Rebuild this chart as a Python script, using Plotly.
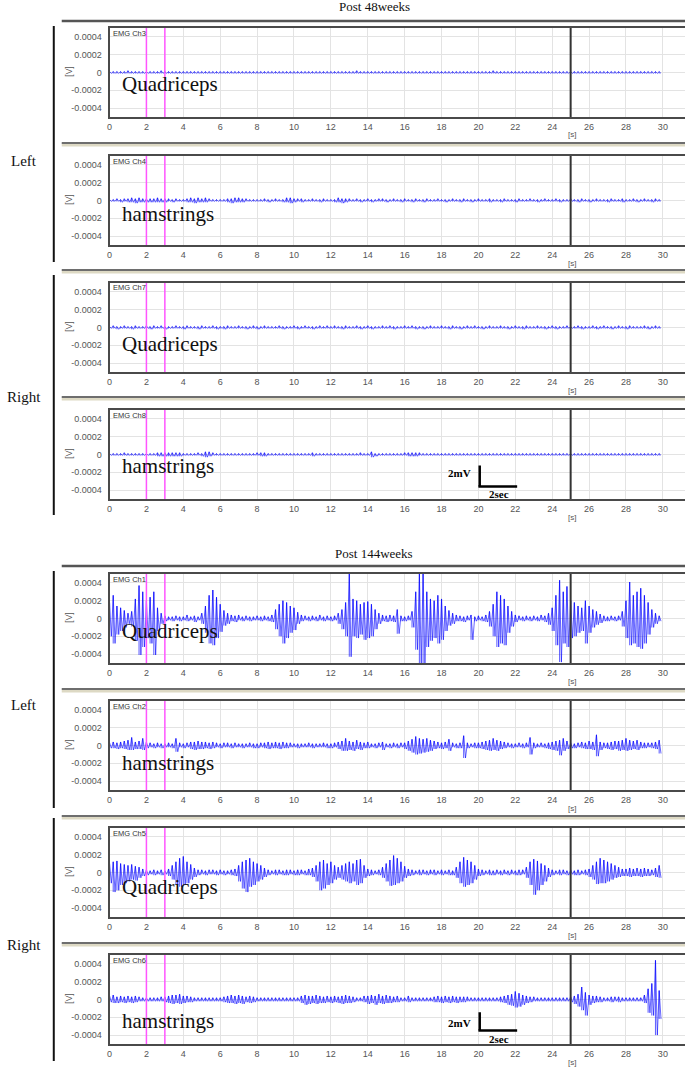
import numpy as np
import plotly.graph_objects as go

W, H = 685, 1069
BIN = 0.2  # seconds per bin; values are per-bin max (hi) and min (lo), unit = 10 uV
UNIT = 1e-5

channels = ["EMG Ch3", "EMG Ch4", "EMG Ch7", "EMG Ch8", "EMG Ch1", "EMG Ch2", "EMG Ch5", "EMG Ch6"]
muscles = ["Quadriceps", "hamstrings", "Quadriceps", "hamstrings",
           "Quadriceps", "hamstrings", "Quadriceps", "hamstrings"]
blocks = ["Post 48weeks", "Post 144weeks"]
sides = ["Left", "Right", "Left", "Right"]
x_ticks = list(range(0, 31, 2))
y_ticks = [-0.0004, -0.0002, 0, 0.0002, 0.0004]
y_ticktext = ["-0.0004", "-0.0002", "0", "0.0002", "0.0004"]
markers_magenta = [2, 3]
marker_black = 25

ch3_hi = [1,1,1,1,1, 2,1,1,1,1, 1,1,1,1,2, 1,1,1,1,1, 1,1,1,1,1, 1,1,1,1,1,
          1,1,1,1,1, 1,1,1,1,1, 1,1,1,1,1, 1,1,1,1,1, 1,1,1,1,1, 1,1,1,1,1,
          1,1,1,1,1, 1,1,2,1,1, 1,1,1,1,1, 1,1,1,1,1, 1,1,1,1,1, 1,1,1,1,1,
          1,1,1,1,1, 1,1,1,1,1, 1,1,1,1,2, 1,1,1,1,1, 1,1,1,1,1, 1,1,1,1,1,
          1,1,1,1,1, 1,1,1,1,1, 1,1,1,1,1, 1,1,1,1,1, 1,1,1,1,1, 1,1,1,1,1]
ch3_lo = [-1,-1,-1,-1,-1, -1,-1,-1,-1,-1, -1,-1,-1,-1,-1, -1,-1,-1,-1,-1, -1,-1,-1,-1,-1, -1,-1,-1,-1,-1,
          -1,-1,-1,-1,-1, -1,-1,-1,-1,-1, -1,-1,-1,-1,-1, -1,-1,-1,-1,-1, -1,-1,-1,-1,-1, -1,-1,-1,-1,-1,
          -1,-1,-1,-1,-1, -1,-1,-1,-1,-1, -1,-1,-1,-1,-1, -1,-1,-1,-1,-1, -1,-1,-1,-1,-1, -1,-1,-1,-1,-1,
          -1,-1,-1,-1,-1, -1,-1,-1,-1,-1, -1,-1,-1,-1,-1, -1,-1,-1,-1,-1, -1,-1,-1,-1,-1, -1,-1,-1,-1,-1,
          -1,-1,-1,-1,-1, -1,-1,-1,-1,-1, -1,-1,-1,-1,-1, -1,-1,-1,-1,-1, -1,-1,-1,-1,-1, -1,-1,-1,-1,-1]

ch4_hi = [1,1,2,1,2, 2,3,2,3,2, 2,2,2,3,2, 2,2,1,2,1, 1,2,3,2,3, 2,3,2,1,1,
          1,1,2,2,3, 3,2,2,1,1, 1,1,2,1,1, 2,1,1,3,3, 2,2,2,1,1, 2,1,1,2,1,
          1,1,3,2,2, 2,1,2,1,1, 2,1,1,2,2, 1,1,2,1,1, 2,1,1,2,1, 1,2,1,1,2,
          1,1,1,2,1, 1,2,1,1,1, 2,1,1,2,1, 1,1,2,1,1, 1,2,1,1,2, 1,1,1,2,1,
          1,2,1,1,1, 2,1,1,2,1, 1,1,2,1,1, 1,2,1,1,2, 1,1,2,1,1, 2,1,1,2,1]
ch4_lo = [-1,-1,-1,-2,-1, -2,-2,-3,-2,-2, -2,-2,-2,-2,-2, -2,-1,-2,-1,-1, -1,-2,-2,-3,-2, -2,-2,-1,-1,-1,
          -1,-1,-2,-3,-2, -2,-2,-1,-1,-1, -1,-1,-1,-2,-1, -1,-1,-2,-2,-3, -2,-1,-2,-1,-1, -1,-1,-2,-1,-1,
          -1,-2,-2,-3,-2, -1,-1,-1,-2,-1, -1,-2,-1,-1,-1, -2,-1,-1,-1,-2, -1,-1,-2,-1,-1, -2,-1,-1,-1,-1,
          -1,-2,-1,-1,-1, -2,-1,-1,-2,-1, -1,-1,-1,-2,-1, -1,-2,-1,-1,-1, -2,-1,-1,-1,-1, -1,-2,-1,-1,-1,
          -1,-1,-2,-1,-1, -1,-1,-2,-1,-1, -2,-1,-1,-1,-1, -2,-1,-1,-1,-2, -1,-1,-1,-2,-1, -1,-1,-2,-1,-1]

ch7_hi = [1,2,1,1,2, 1,1,2,1,1, 2,1,2,1,2, 1,1,1,2,1, 1,2,1,1,1, 2,1,1,2,1,
          1,1,2,1,1, 2,1,1,1,2, 1,1,2,1,1, 1,2,1,1,1, 2,1,1,2,1, 1,1,2,1,2,
          1,2,1,1,2, 1,1,2,1,1, 2,1,1,1,2, 1,2,1,1,1, 2,1,2,1,1, 1,1,2,1,1,
          2,1,1,2,1, 1,1,2,1,2, 1,1,1,2,1, 1,2,1,1,1, 2,1,1,2,1, 1,2,1,1,1,
          2,1,1,1,2, 1,1,2,1,1, 1,2,1,1,2, 1,1,1,2,1, 1,2,1,1,1, 2,1,1,2,1]
ch7_lo = [-1,-1,-2,-1,-1, -1,-2,-1,-1,-1, -1,-2,-1,-1,-1, -2,-1,-1,-1,-1, -2,-1,-1,-1,-2, -1,-1,-1,-1,-2,
          -1,-2,-1,-1,-1, -1,-1,-2,-1,-1, -2,-1,-1,-1,-1, -1,-1,-2,-1,-1, -1,-2,-1,-1,-1, -2,-1,-1,-1,-1,
          -1,-1,-1,-2,-1, -1,-1,-1,-2,-1, -1,-2,-1,-1,-1, -1,-1,-2,-1,-1, -1,-1,-1,-2,-1, -2,-1,-1,-1,-1,
          -1,-1,-2,-1,-1, -2,-1,-1,-1,-1, -1,-2,-1,-1,-1, -1,-1,-1,-2,-1, -1,-1,-2,-1,-1, -1,-1,-1,-2,-1,
          -1,-2,-1,-1,-1, -1,-1,-1,-2,-1, -1,-1,-2,-1,-1, -1,-2,-1,-1,-1, -2,-1,-1,-1,-1, -1,-2,-1,-1,-1]

ch8_hi = [1,1,1,1,2, 1,1,1,1,1, 1,1,1,2,2, 2,2,2,2,2, 1,1,1,1,2, 1,3,3,2,1,
          1,1,1,1,1, 1,1,1,1,1, 2,2,2,1,1, 1,1,1,1,1, 1,1,1,1,1, 2,1,1,1,1,
          1,1,1,1,1, 1,1,1,2,1, 1,3,1,1,1, 1,1,1,1,1, 2,2,2,2,2, 1,1,1,1,1,
          1,1,1,1,1, 1,1,1,1,1, 1,1,1,1,1, 1,1,1,1,1, 1,1,1,1,1, 1,1,1,1,1,
          1,1,1,1,1, 1,1,1,1,1, 1,1,1,1,1, 1,1,1,1,1, 1,1,1,1,1, 1,1,1,1,1]
ch8_lo = [-1,-1,-1,-1,-1, -1,-1,-1,-1,-1, -1,-1,-1,-2,-2, -2,-2,-2,-2,-2, -1,-1,-1,-1,-1, -2,-3,-2,-1,-1,
          -1,-1,-1,-1,-1, -1,-1,-1,-1,-1, -1,-2,-2,-1,-1, -1,-1,-1,-1,-1, -1,-1,-1,-1,-1, -2,-1,-1,-1,-1,
          -1,-1,-1,-1,-1, -1,-1,-1,-1,-1, -1,-3,-2,-1,-1, -1,-1,-1,-1,-1, -1,-2,-2,-2,-1, -1,-1,-1,-1,-1,
          -1,-1,-1,-1,-1, -1,-1,-1,-1,-1, -1,-1,-1,-1,-1, -1,-1,-1,-1,-1, -1,-1,-1,-1,-1, -1,-1,-1,-1,-1,
          -1,-1,-1,-1,-1, -1,-1,-1,-1,-1, -1,-1,-1,-1,-1, -1,-1,-1,-1,-1, -1,-1,-1,-1,-1, -1,-1,-1,-1,-1]

ch1_hi = [18,26,14,12,9, 6,8,22,37,30,
          20,24,30,12,6, 3,2,2,3,2,
          2,4,2,3,2, 6,14,26,32,24,
          16,9,6,4,3, 4,2,3,2,2,
          3,2,3,2,4, 10,16,20,18,14,
          12,7,4,3,2, 3,2,4,2,3,
          2,3,6,10,18, 50,22,20,16,18,
          19,16,10,6,4, 3,4,3,10,3,
          2,3,8,30,50, 50,30,22,20,26,
          22,14,9,6,4, 3,2,3,4,2,
          3,2,4,8,16, 30,26,22,14,8,
          4,3,2,3,2, 3,2,4,3,6,
          12,26,43,30,36, 20,18,14,12,20,
          14,10,8,5,3, 2,3,2,3,8,
          20,41,26,30,34, 26,18,10,6,3]
ch1_lo = [-20,-28,-18,-14,-10, -6,-9,-25,-41,-32,
          -22,-28,-41,-14,-6, -3,-2,-3,-2,-3,
          -2,-3,-2,-4,-2, -6,-16,-28,-30,-22,
          -15,-8,-6,-3,-4, -2,-3,-2,-3,-2,
          -2,-3,-2,-3,-4, -12,-20,-28,-22,-16,
          -13,-6,-3,-2,-3, -2,-3,-2,-3,-2,
          -3,-2,-6,-12,-20, -43,-20,-22,-18,-24,
          -22,-20,-12,-6,-3, -4,-3,-4,-17,-3,
          -3,-2,-10,-35,-50, -50,-32,-25,-22,-28,
          -24,-14,-8,-6,-3, -3,-4,-2,-24,-3,
          -2,-3,-4,-9,-20, -32,-28,-30,-16,-9,
          -4,-2,-3,-2,-3, -2,-3,-2,-4,-7,
          -14,-30,-49,-28,-32, -22,-20,-16,-14,-28,
          -16,-10,-7,-5,-3, -3,-2,-3,-2,-9,
          -22,-30,-28,-32,-34, -28,-18,-10,-6,-3]

ch2_hi = [3,4,3,4,5, 6,9,4,5,8,
          4,3,2,3,2, 2,3,2,8,3,
          2,3,4,4,5, 4,4,3,4,3,
          2,3,3,2,3, 2,2,2,3,2,
          2,3,3,4,3, 4,3,4,3,3,
          2,2,2,2,3, 2,2,2,3,2,
          2,3,4,5,8, 5,4,6,4,3,
          4,2,2,3,4, 2,2,3,2,3,
          3,5,7,10,8, 7,8,6,5,4,
          3,4,7,3,2, 3,11,3,2,3,
          3,4,5,6,8, 6,5,4,3,2,
          2,3,2,3,9, 3,2,3,2,3,
          4,5,6,8,5, 3,2,3,4,3,
          5,4,12,4,3, 3,4,5,5,6,
          8,6,5,6,4, 3,3,3,4,6]
ch2_lo = [-3,-3,-4,-3,-4, -5,-5,-4,-4,-5,
          -3,-2,-3,-2,-3, -2,-2,-3,-7,-2,
          -3,-2,-4,-5,-4, -4,-3,-4,-3,-2,
          -3,-2,-2,-3,-2, -2,-3,-2,-2,-3,
          -3,-2,-3,-4,-3, -3,-4,-3,-3,-2,
          -2,-3,-2,-2,-2, -3,-2,-2,-2,-3,
          -3,-2,-4,-6,-6, -5,-6,-4,-5,-3,
          -3,-2,-3,-2,-5, -2,-3,-2,-3,-2,
          -4,-6,-8,-10,-9, -8,-7,-6,-4,-3,
          -4,-3,-6,-2,-3, -3,-14,-3,-2,-3,
          -3,-4,-5,-6,-5, -6,-4,-3,-2,-3,
          -2,-2,-3,-2,-10, -3,-2,-2,-3,-4,
          -5,-6,-11,-6,-4, -3,-3,-2,-3,-4,
          -4,-5,-12,-5,-3, -4,-5,-4,-6,-5,
          -6,-5,-4,-5,-3, -3,-2,-3,-4,-9]

ch5_hi = [10,12,13,10,9, 8,9,7,6,4,
          3,2,3,2,3, 2,4,8,12,16,
          18,12,9,5,3, 3,2,3,3,2,
          3,2,2,3,4, 8,12,14,16,12,
          10,8,5,3,2, 3,3,2,3,3,
          2,3,3,2,4, 5,8,12,14,10,
          12,8,6,8,10, 12,10,14,15,8,
          4,3,2,3,6, 10,14,19,16,12,
          7,4,3,2,3, 3,2,3,3,2,
          3,2,3,2,6, 12,17,14,12,8,
          4,3,2,3,2, 3,2,3,2,3,
          2,3,3,6,12, 15,13,10,8,5,
          3,2,3,3,2, 3,2,3,2,3,
          4,8,12,16,14, 12,10,8,6,4,
          4,5,4,5,4, 5,4,3,5,8]
ch5_lo = [-12,-22,-20,-14,-12, -10,-8,-9,-6,-4,
          -3,-2,-3,-2,-3, -2,-4,-8,-14,-16,
          -14,-12,-8,-5,-3, -2,-3,-2,-2,-3,
          -2,-3,-2,-3,-4, -10,-18,-22,-16,-14,
          -10,-8,-5,-3,-2, -3,-2,-3,-3,-2,
          -3,-3,-2,-3,-3, -5,-10,-20,-18,-14,
          -12,-8,-6,-8,-10, -12,-10,-14,-12,-6,
          -4,-3,-2,-3,-6, -10,-15,-14,-12,-10,
          -6,-4,-3,-2,-3, -2,-3,-2,-3,-2,
          -3,-2,-3,-3,-6, -12,-16,-14,-12,-8,
          -4,-3,-2,-3,-3, -2,-3,-2,-3,-2,
          -3,-3,-2,-6,-14, -25,-20,-14,-10,-5,
          -3,-2,-3,-2,-3, -2,-3,-3,-2,-3,
          -5,-8,-13,-12,-12, -10,-8,-6,-5,-4,
          -4,-5,-4,-4,-5, -4,-4,-3,-5,-6]

ch6_hi = [4,5,3,4,3, 4,3,4,3,2,
          2,2,2,2,3, 3,4,5,5,6,
          4,4,3,2,2, 2,2,2,2,2,
          2,3,4,5,4, 5,4,3,4,3,
          2,2,2,2,2, 2,2,2,2,2,
          2,2,4,5,4, 4,5,4,3,4,
          3,4,3,4,5, 4,3,2,2,4,
          4,5,4,6,4, 5,4,3,4,2,
          2,4,2,2,2, 2,2,2,3,4,
          3,4,3,4,3, 3,3,3,2,2,
          2,2,2,2,2, 2,3,4,5,6,
          9,7,5,4,3, 3,2,2,2,2,
          2,2,2,2,2, 3,4,6,14,8,
          5,4,4,3,2, 2,3,3,3,2,
          2,2,2,2,2, 5,12,18,44,10]
ch6_lo = [-3,-4,-4,-3,-4, -3,-4,-3,-2,-2,
          -2,-2,-2,-2,-2, -3,-4,-5,-4,-5,
          -4,-3,-3,-2,-2, -2,-2,-2,-2,-2,
          -2,-3,-4,-4,-5, -4,-5,-3,-4,-3,
          -2,-2,-2,-2,-2, -2,-2,-2,-2,-2,
          -2,-2,-4,-6,-5, -4,-5,-4,-4,-3,
          -4,-3,-4,-5,-4, -4,-3,-2,-2,-3,
          -5,-4,-6,-4,-5, -4,-4,-3,-3,-2,
          -2,-3,-2,-2,-2, -2,-2,-2,-3,-3,
          -4,-3,-4,-3,-4, -3,-3,-2,-2,-2,
          -2,-2,-2,-2,-2, -2,-3,-4,-6,-7,
          -9,-8,-6,-4,-3, -2,-2,-2,-2,-2,
          -2,-2,-2,-2,-2, -3,-5,-8,-12,-18,
          -6,-4,-3,-3,-2, -2,-3,-2,-3,-2,
          -2,-2,-2,-2,-2, -4,-15,-18,-40,-22]

signals_hi = [ch3_hi, ch4_hi, ch7_hi, ch8_hi, ch1_hi, ch2_hi, ch5_hi, ch6_hi]
signals_lo = [ch3_lo, ch4_lo, ch7_lo, ch8_lo, ch1_lo, ch2_lo, ch5_lo, ch6_lo]

# ---------------- layout geometry (pixels) ----------------
panel_tops = [28, 156, 283, 410, 574, 701, 828, 955]
PANEL_H = 89
PLOT_LEFT = 107
label_offsets = [12, 13, 16, 12, 12, 17, 14, 21]


def yp(p):
    return 1 - p / H


def xp(p):
    return p / W


fig = go.Figure()
shapes = []
annotations = []

for i in range(8):
    n = i + 1
    xa = "x" if n == 1 else f"x{n}"
    ya = "y" if n == 1 else f"y{n}"
    top = panel_tops[i]
    bot = top + PANEL_H
    hi = np.array(signals_hi[i], dtype=float) * UNIT
    lo = np.array(signals_lo[i], dtype=float) * UNIT
    t = np.arange(len(hi)) * BIN
    # continuous trace alternating between each bin's max and min
    xz = np.empty(2 * len(t))
    xz[0::2] = t
    xz[1::2] = t + BIN / 2
    yz = np.empty(2 * len(t))
    yz[0::2] = hi
    yz[1::2] = lo
    # plus a vertical max-to-min stroke for each bin
    xs = np.column_stack([t, t, np.full_like(t, np.nan)]).ravel()
    ys = np.column_stack([hi, lo, np.full_like(t, np.nan)]).ravel()
    fig.add_trace(go.Scatter(x=xz, y=yz, mode="lines", xaxis=xa, yaxis=ya,
                             line=dict(color="rgba(0,0,255,0.6)", width=1),
                             hoverinfo="skip", showlegend=False))
    fig.add_trace(go.Scatter(x=xs, y=ys, mode="lines", xaxis=xa, yaxis=ya, connectgaps=False,
                             line=dict(color="rgba(0,0,255,0.6)", width=1.1),
                             hoverinfo="skip", showlegend=False))
    fig.layout[f"xaxis{n}"] = dict(
        domain=[xp(PLOT_LEFT), 1.0], anchor=ya, range=[0, 31.2],
        tickmode="array", tickvals=x_ticks, ticktext=[str(v) for v in x_ticks],
        showgrid=True, gridcolor="#e3e3e3", gridwidth=1, zeroline=False,
        showline=True, linecolor="#4a4a4a", linewidth=2, mirror=True,
        ticks="", tickfont=dict(family="Liberation Sans", size=9, color="#555"),
        fixedrange=True)
    fig.layout[f"yaxis{n}"] = dict(
        domain=[yp(bot), yp(top)], anchor=xa, range=[-0.0005, 0.0005],
        tickmode="array", tickvals=y_ticks, ticktext=y_ticktext,
        showgrid=True, gridcolor="#e3e3e3", gridwidth=1, zeroline=False,
        showline=True, linecolor="#4a4a4a", linewidth=2,
        ticks="", ticklabelstandoff=4,
        tickfont=dict(family="Liberation Sans", size=9, color="#555"),
        fixedrange=True)
    shapes.append(dict(type="line", xref=f"{xa} domain", yref=ya, x0=0, x1=1, y0=0, y1=0,
                       line=dict(color="#ff5cff", width=1.2), layer="below"))
    for m in markers_magenta:
        shapes.append(dict(type="line", xref=xa, yref=f"{ya} domain", x0=m, x1=m, y0=0, y1=1,
                           line=dict(color="#ff55ff", width=1.5), layer="above"))
    shapes.append(dict(type="line", xref=xa, yref=f"{ya} domain", x0=marker_black, x1=marker_black,
                       y0=0, y1=1, line=dict(color="#333", width=2), layer="above"))
    annotations.append(dict(text=channels[i], xref="paper", yref="paper", x=xp(PLOT_LEFT + 1),
                            y=yp(top + 5), xanchor="left", yanchor="middle", showarrow=False,
                            font=dict(family="Liberation Sans", size=7.5, color="#333")))
    annotations.append(dict(text="[V]", xref="paper", yref="paper", x=xp(66), y=yp(top + 44),
                            textangle=-90, showarrow=False, xanchor="center", yanchor="middle",
                            font=dict(family="Liberation Sans", size=8.5, color="#555")))
    annotations.append(dict(text="[s]", xref=xa, yref="paper", x=25.1, y=yp(bot + 18),
                            showarrow=False, xanchor="center", yanchor="middle",
                            font=dict(family="Liberation Sans", size=8, color="#555")))
    annotations.append(dict(text=muscles[i], xref=xa, yref=ya, x=0.55,
                            y=-label_offsets[i] * 0.001 / PANEL_H, xanchor="left", yanchor="middle",
                            showarrow=False,
                            font=dict(family="Liberation Serif", size=21, color="#111")))

for title, ypix, hline in zip(blocks, [7, 553], [21, 566]):
    annotations.append(dict(text=title, xref="paper", yref="paper", x=xp(373), y=yp(ypix),
                            showarrow=False, xanchor="center", yanchor="middle",
                            font=dict(family="Liberation Serif", size=13, color="#111")))
    shapes.append(dict(type="line", xref="paper", yref="paper", x0=xp(59), x1=1,
                       y0=yp(hline), y1=yp(hline), line=dict(color="#555", width=2.5)))

for s in [143, 270, 397, 689, 816, 943]:
    shapes.append(dict(type="line", xref="paper", yref="paper", x0=xp(59), x1=1,
                       y0=yp(s + 2), y1=yp(s + 2), line=dict(color="#ddd9c4", width=3)))
    shapes.append(dict(type="line", xref="paper", yref="paper", x0=xp(59), x1=1,
                       y0=yp(s), y1=yp(s), line=dict(color="#6e6e6e", width=2)))

brackets = [(26, 262), (275, 515), (571, 808), (818, 1061)]
side_label_y = [161, 397, 705, 945]
for (y0, y1), lab, ly in zip(brackets, sides, side_label_y):
    shapes.append(dict(type="line", xref="paper", yref="paper", x0=xp(51), x1=xp(51),
                       y0=yp(y0), y1=yp(y1), line=dict(color="#111", width=2)))
    annotations.append(dict(text=lab, xref="paper", yref="paper", x=xp(21), y=yp(ly),
                            showarrow=False, xanchor="center", yanchor="middle",
                            font=dict(family="Liberation Serif", size=15, color="#111")))

for n, (ytop, ybot, ymv) in zip([4, 8], [(-0.000124, -0.00036, -0.00021), (-0.000143, -0.000348, -0.00026)]):
    xa = f"x{n}"
    ya = f"y{n}"
    shapes.append(dict(type="line", xref=xa, yref=ya, x0=20.07, x1=20.07, y0=ytop, y1=ybot,
                       line=dict(color="#000", width=2.5)))
    shapes.append(dict(type="line", xref=xa, yref=ya, x0=20.0, x1=22.1, y0=ybot, y1=ybot,
                       line=dict(color="#000", width=2.5)))
    annotations.append(dict(text="<b>2mV</b>", xref=xa, yref=ya, x=19.7, y=ymv, xanchor="right",
                            yanchor="middle", showarrow=False,
                            font=dict(family="Liberation Serif", size=11, color="#000")))
    annotations.append(dict(text="<b>2sec</b>", xref=xa, yref=ya, x=21.1, y=-0.00044,
                            xanchor="center", yanchor="middle", showarrow=False,
                            font=dict(family="Liberation Serif", size=11, color="#000")))

fig.update_layout(width=W, height=H, margin=dict(l=0, r=0, t=0, b=0),
                  paper_bgcolor="white", plot_bgcolor="white",
                  shapes=shapes, annotations=annotations, showlegend=False)

fig.write_html("out.html", config={"displayModeBar": False},
               post_script="document.body.style.margin='0';document.body.style.padding='0';")
